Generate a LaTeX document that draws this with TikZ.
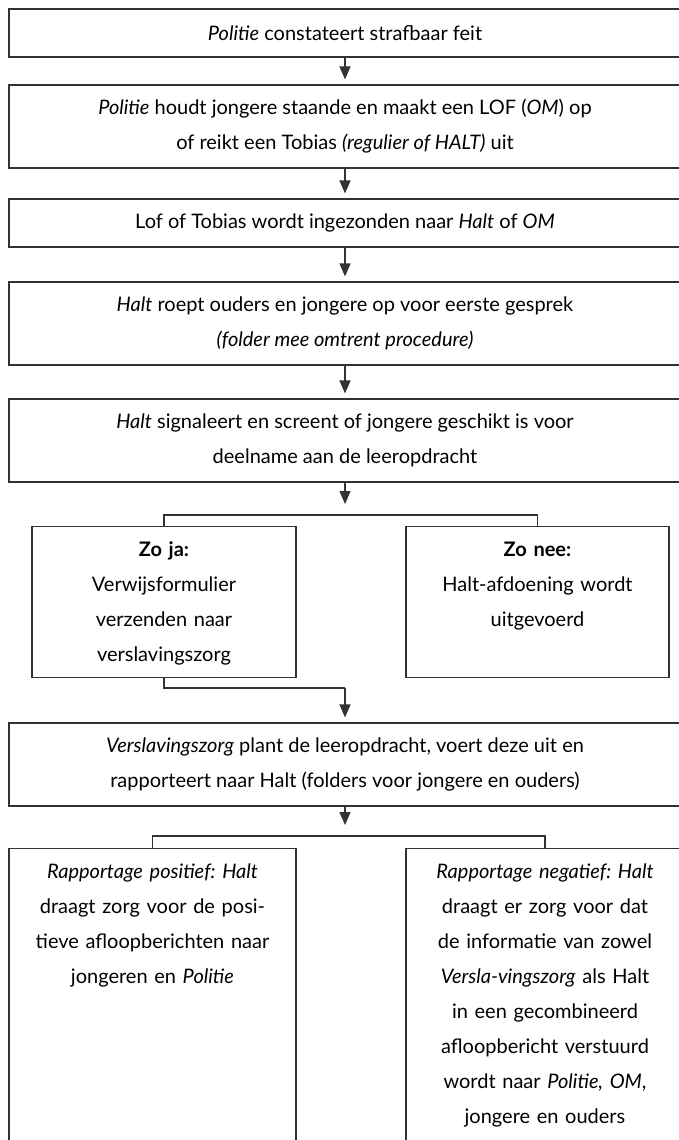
\documentclass[tikz,border=0pt]{standalone}
\usepackage{fontspec}
\setmainfont{Lato}
\frenchspacing
\usetikzlibrary{arrows.meta}

\begin{document}
\begin{tikzpicture}[x=1pt, y=-1pt,
    lijn/.style={line width=1.2pt, draw=black!80},
    vak/.style={lijn, inner sep=0pt, minimum width=672pt, align=center,
      font=\fontsize{20}{35}\selectfont},
    zijvak/.style={lijn, anchor=north, inner xsep=4pt, inner ysep=15pt,
      align=center, text height=15pt, font=\fontsize{20}{35}\selectfont},
    pijl/.style={lijn, -{Triangle[length=13pt, width=11pt]}, shorten >=5pt}]
  \clip (0,0) rectangle (679,1140);

  \node[vak, minimum height=48pt] (b1) at (345,33) {\textit{Politie} constateert strafbaar feit};
  \node[vak, minimum height=83pt] (b2) at (345,126.5) {\textit{Politie} houdt jongere staande en maakt een LOF (\textit{OM}) op\\
    of reikt een Tobias \textit{(regulier of HALT)} uit};
  \node[vak, minimum height=48pt] (b3) at (345,223) {Lof of Tobias wordt ingezonden naar \textit{Halt} of \textit{OM}};
  \node[vak, minimum height=83pt] (b4) at (345,323.5) {\textit{Halt} roept ouders en jongere op voor eerste gesprek\\
    \textit{(folder mee omtrent procedure)}};
  \node[vak, minimum height=83pt] (b5) at (345,440.5) {\textit{Halt} signaleert en screent of jongere geschikt is voor\\
    deelname aan de leeropdracht};

  \node[zijvak, text width=256pt, text depth=106pt] (ja) at (164,526) {\textbf{Zo ja:}\\
    Verwijsformulier\\ verzenden naar\\ verslavingszorg};
  \node[zijvak, text width=255pt, text depth=106pt] (nee) at (537.5,526) {\textbf{Zo nee:}\\
    Halt-afdoening wordt\\ uitgevoerd};

  \node[vak, minimum height=83pt] (b6) at (345,764.5) {\textit{Verslavingszorg} plant de leeropdracht, voert deze uit en\\
    rapporteert naar Halt (folders voor jongere en ouders)};

  \node[zijvak, text width=279pt, text depth=330pt] (pos) at (152.5,848) {\textit{Rapportage positief: Halt}\\
    draagt zorg voor de posi-\\ tieve afloopberichten naar\\ jongeren en \textit{Politie}};
  \node[zijvak, text width=270pt, text depth=330pt] (neg) at (545,848) {\textit{Rapportage negatief: Halt}\\
    draagt er zorg voor dat\\ de informatie van zowel\\ \textit{Versla-vingszorg} als Halt\\
    in een gecombineerd\\ afloopbericht verstuurd\\ wordt naar \textit{Politie, OM},\\ jongere en ouders};

  \coordinate (tak1) at (345,515);
  \coordinate (tak2) at (345,688);
  \coordinate (tak3) at (345,836);

  \draw[pijl] (b1) -- (b2);
  \draw[pijl] (b2) -- (b3);
  \draw[pijl] (b3) -- (b4);
  \draw[pijl] (b4) -- (b5);
  \draw[pijl, shorten >=11pt] (b5) -- (tak1);
  \draw[lijn] (ja.north) |- (tak1) -| (nee.north);
  \draw[lijn] (ja.south) |- (tak2);
  \draw[pijl] (tak2) -- (b6);
  \draw[pijl, shorten >=11pt] (b6) -- (tak3);
  \draw[lijn] (pos.north) |- (tak3) -| (neg.north);

\end{tikzpicture}
\end{document}
